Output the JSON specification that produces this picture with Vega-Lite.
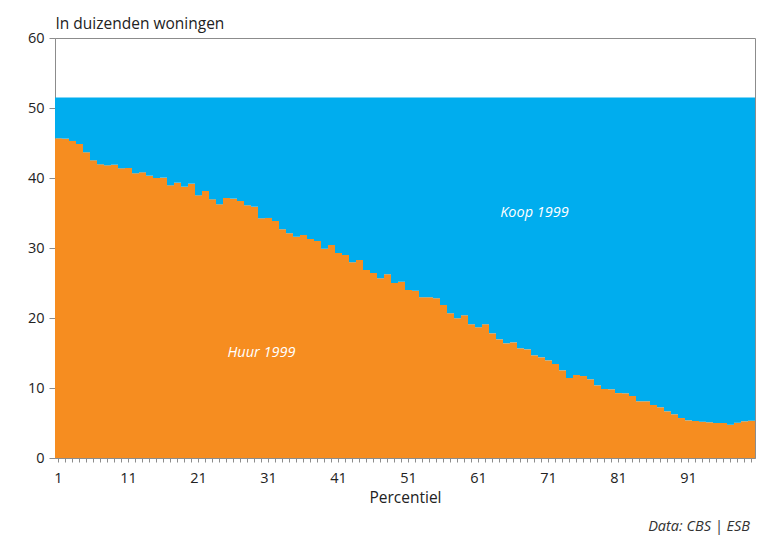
{
  "$schema": "https://vega.github.io/schema/vega-lite/v6.json",
  "width": 700,
  "height": 420,
  "autosize": {"type": "none"},
  "padding": {"left": 55, "top": 38, "right": 9, "bottom": 81},
  "background": "white",
  "config": {
    "font": "Open Sans",
    "view": {"stroke": "#8c8c8c", "strokeWidth": 1},
    "axis": {
      "domainColor": "#8c8c8c",
      "tickColor": "#8c8c8c",
      "labelColor": "#222222",
      "titleColor": "#222222",
      "labelFontSize": 14.5,
      "titleFontSize": 15.5,
      "titleFontWeight": "normal",
      "grid": false
    }
  },
  "title": {
    "text": "Data: CBS | ESB",
    "orient": "bottom",
    "anchor": "end",
    "fontStyle": "italic",
    "fontWeight": "normal",
    "fontSize": 14.5,
    "color": "#333333",
    "offset": 14,
    "dx": -5
  },
  "data": {
    "values": [
      {"p": 1, "Huur": 45.67, "Koop": 5.83},
      {"p": 2, "Huur": 45.62, "Koop": 5.88},
      {"p": 3, "Huur": 45.29, "Koop": 6.21},
      {"p": 4, "Huur": 44.86, "Koop": 6.64},
      {"p": 5, "Huur": 43.67, "Koop": 7.83},
      {"p": 6, "Huur": 42.52, "Koop": 8.98},
      {"p": 7, "Huur": 41.95, "Koop": 9.55},
      {"p": 8, "Huur": 41.81, "Koop": 9.69},
      {"p": 9, "Huur": 41.9, "Koop": 9.6},
      {"p": 10, "Huur": 41.38, "Koop": 10.12},
      {"p": 11, "Huur": 41.43, "Koop": 10.07},
      {"p": 12, "Huur": 40.67, "Koop": 10.83},
      {"p": 13, "Huur": 40.81, "Koop": 10.69},
      {"p": 14, "Huur": 40.33, "Koop": 11.17},
      {"p": 15, "Huur": 40.0, "Koop": 11.5},
      {"p": 16, "Huur": 40.05, "Koop": 11.45},
      {"p": 17, "Huur": 38.95, "Koop": 12.55},
      {"p": 18, "Huur": 39.33, "Koop": 12.17},
      {"p": 19, "Huur": 38.76, "Koop": 12.74},
      {"p": 20, "Huur": 39.19, "Koop": 12.31},
      {"p": 21, "Huur": 37.52, "Koop": 13.98},
      {"p": 22, "Huur": 38.14, "Koop": 13.36},
      {"p": 23, "Huur": 36.95, "Koop": 14.55},
      {"p": 24, "Huur": 36.24, "Koop": 15.26},
      {"p": 25, "Huur": 37.14, "Koop": 14.36},
      {"p": 26, "Huur": 37.05, "Koop": 14.45},
      {"p": 27, "Huur": 36.71, "Koop": 14.79},
      {"p": 28, "Huur": 36.1, "Koop": 15.4},
      {"p": 29, "Huur": 35.9, "Koop": 15.6},
      {"p": 30, "Huur": 34.24, "Koop": 17.26},
      {"p": 31, "Huur": 34.29, "Koop": 17.21},
      {"p": 32, "Huur": 33.86, "Koop": 17.64},
      {"p": 33, "Huur": 32.67, "Koop": 18.83},
      {"p": 34, "Huur": 32.1, "Koop": 19.4},
      {"p": 35, "Huur": 31.62, "Koop": 19.88},
      {"p": 36, "Huur": 31.86, "Koop": 19.64},
      {"p": 37, "Huur": 31.29, "Koop": 20.21},
      {"p": 38, "Huur": 31.0, "Koop": 20.5},
      {"p": 39, "Huur": 29.9, "Koop": 21.6},
      {"p": 40, "Huur": 30.43, "Koop": 21.07},
      {"p": 41, "Huur": 29.29, "Koop": 22.21},
      {"p": 42, "Huur": 29.0, "Koop": 22.5},
      {"p": 43, "Huur": 27.95, "Koop": 23.55},
      {"p": 44, "Huur": 28.29, "Koop": 23.21},
      {"p": 45, "Huur": 26.86, "Koop": 24.64},
      {"p": 46, "Huur": 26.43, "Koop": 25.07},
      {"p": 47, "Huur": 25.67, "Koop": 25.83},
      {"p": 48, "Huur": 26.24, "Koop": 25.26},
      {"p": 49, "Huur": 25.0, "Koop": 26.5},
      {"p": 50, "Huur": 25.19, "Koop": 26.31},
      {"p": 51, "Huur": 24.0, "Koop": 27.5},
      {"p": 52, "Huur": 23.9, "Koop": 27.6},
      {"p": 53, "Huur": 22.95, "Koop": 28.55},
      {"p": 54, "Huur": 22.95, "Koop": 28.55},
      {"p": 55, "Huur": 22.81, "Koop": 28.69},
      {"p": 56, "Huur": 21.86, "Koop": 29.64},
      {"p": 57, "Huur": 20.67, "Koop": 30.83},
      {"p": 58, "Huur": 19.95, "Koop": 31.55},
      {"p": 59, "Huur": 20.38, "Koop": 31.12},
      {"p": 60, "Huur": 19.1, "Koop": 32.4},
      {"p": 61, "Huur": 18.67, "Koop": 32.83},
      {"p": 62, "Huur": 19.1, "Koop": 32.4},
      {"p": 63, "Huur": 17.81, "Koop": 33.69},
      {"p": 64, "Huur": 16.95, "Koop": 34.55},
      {"p": 65, "Huur": 16.38, "Koop": 35.12},
      {"p": 66, "Huur": 16.52, "Koop": 34.98},
      {"p": 67, "Huur": 15.67, "Koop": 35.83},
      {"p": 68, "Huur": 15.52, "Koop": 35.98},
      {"p": 69, "Huur": 14.67, "Koop": 36.83},
      {"p": 70, "Huur": 14.38, "Koop": 37.12},
      {"p": 71, "Huur": 13.95, "Koop": 37.55},
      {"p": 72, "Huur": 13.43, "Koop": 38.07},
      {"p": 73, "Huur": 12.52, "Koop": 38.98},
      {"p": 74, "Huur": 11.43, "Koop": 40.07},
      {"p": 75, "Huur": 11.86, "Koop": 39.64},
      {"p": 76, "Huur": 11.71, "Koop": 39.79},
      {"p": 77, "Huur": 11.24, "Koop": 40.26},
      {"p": 78, "Huur": 10.38, "Koop": 41.12},
      {"p": 79, "Huur": 9.86, "Koop": 41.64},
      {"p": 80, "Huur": 9.81, "Koop": 41.69},
      {"p": 81, "Huur": 9.27, "Koop": 42.23},
      {"p": 82, "Huur": 9.24, "Koop": 42.26},
      {"p": 83, "Huur": 8.86, "Koop": 42.64},
      {"p": 84, "Huur": 8.1, "Koop": 43.4},
      {"p": 85, "Huur": 8.1, "Koop": 43.4},
      {"p": 86, "Huur": 7.57, "Koop": 43.93},
      {"p": 87, "Huur": 7.24, "Koop": 44.26},
      {"p": 88, "Huur": 6.67, "Koop": 44.83},
      {"p": 89, "Huur": 6.24, "Koop": 45.26},
      {"p": 90, "Huur": 5.71, "Koop": 45.79},
      {"p": 91, "Huur": 5.38, "Koop": 46.12},
      {"p": 92, "Huur": 5.29, "Koop": 46.21},
      {"p": 93, "Huur": 5.19, "Koop": 46.31},
      {"p": 94, "Huur": 5.1, "Koop": 46.4},
      {"p": 95, "Huur": 5.0, "Koop": 46.5},
      {"p": 96, "Huur": 5.0, "Koop": 46.5},
      {"p": 97, "Huur": 4.76, "Koop": 46.74},
      {"p": 98, "Huur": 5.05, "Koop": 46.45},
      {"p": 99, "Huur": 5.24, "Koop": 46.26},
      {"p": 100, "Huur": 5.33, "Koop": 46.17}
    ]
  },
  "layer": [
    {
      "transform": [{"fold": ["Huur", "Koop"], "as": ["type", "value"]}],
      "mark": {"type": "bar", "strokeWidth": 0},
      "encoding": {
        "x": {
          "field": "p",
          "type": "ordinal",
          "scale": {"paddingInner": 0, "paddingOuter": 0},
          "axis": {
            "title": "Percentiel",
            "labelAngle": 0,
            "labelOverlap": false,
            "labelExpr": "(datum.value - 1) % 10 == 0 ? datum.label : ''",
            "tickSize": 4,
            "labelPadding": 9,
            "titlePadding": 6
          }
        },
        "y": {
          "field": "value",
          "type": "quantitative",
          "stack": "zero",
          "scale": {"domain": [0, 60], "nice": false},
          "axis": {
            "values": [0, 10, 20, 30, 40, 50, 60],
            "tickSize": 6,
            "labelPadding": 5,
            "title": "In duizenden woningen",
            "titleAngle": 0,
            "titleAlign": "left",
            "titleBaseline": "alphabetic",
            "titleX": 0,
            "titleY": -10
          }
        },
        "color": {
          "field": "type",
          "type": "nominal",
          "scale": {"domain": ["Huur", "Koop"], "range": ["#F68D20", "#00ADEE"]},
          "legend": null
        },
        "order": {"field": "type", "sort": "ascending"}
      }
    },
    {
      "data": {"values": [{}]},
      "mark": {"type": "text", "text": "Koop 1999", "fontStyle": "italic", "fontSize": 14.5, "color": "white", "align": "center", "baseline": "middle"},
      "encoding": {
        "x": {"datum": 69, "type": "ordinal"},
        "y": {"datum": 35, "type": "quantitative"}
      }
    },
    {
      "data": {"values": [{}]},
      "mark": {"type": "text", "text": "Huur 1999", "fontStyle": "italic", "fontSize": 14.5, "color": "white", "align": "center", "baseline": "middle"},
      "encoding": {
        "x": {"datum": 30, "type": "ordinal"},
        "y": {"datum": 15, "type": "quantitative"}
      }
    }
  ]
}
